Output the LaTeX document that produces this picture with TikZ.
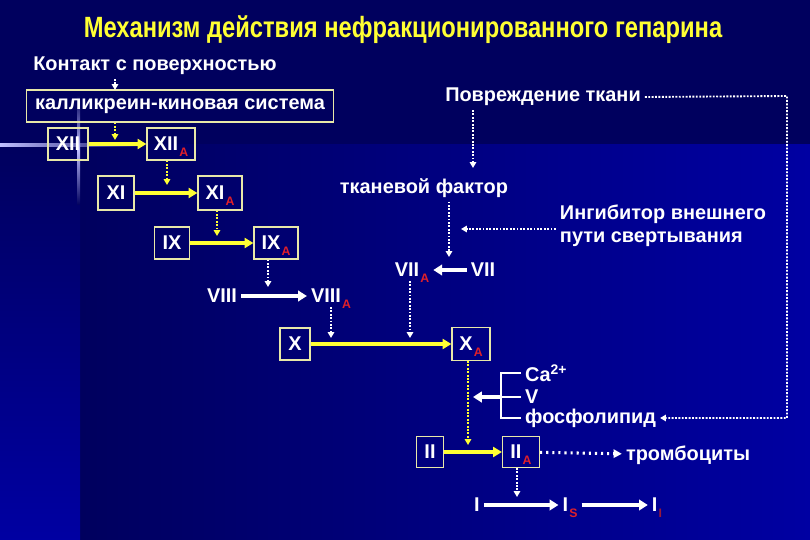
\documentclass[tikz,border=0pt]{standalone}
\usepackage{fontspec}
\setmainfont{Liberation Sans}
\usetikzlibrary{positioning,arrows.meta}

\definecolor{bgnavy}{HTML}{00005E}
\definecolor{bgblue}{HTML}{0000A2}
\definecolor{hyellow}{HTML}{FFFF33}
\definecolor{boxline}{HTML}{E8E8A8}
\definecolor{subred}{HTML}{E0202A}
\definecolor{subdark}{HTML}{9A1838}
\newcommand{\actA}[1]{\hspace{1pt}\raisebox{-0.5ex}[0pt][0pt]{\fontsize{10.5}{10}\selectfont\color{subred}#1}}
\newcommand{\actB}[1]{\hspace{1pt}\raisebox{-0.5ex}[0pt][0pt]{\fontsize{10.5}{10}\selectfont\color{subdark}#1}}

\begin{document}
\begin{tikzpicture}[x=0.03cm, y=-0.03cm,
  every node/.style={font=\bfseries\fontsize{17}{20}\selectfont, text=white},
  fbox/.style={draw=boxline, line width=1pt, inner sep=0pt},
  yarr/.style={draw=hyellow, line width=3.2pt, -{Triangle[length=7.5pt,width=8.5pt]}},
  warr/.style={draw=white, line width=3pt, -{Triangle[length=7.5pt,width=9pt]}},
  wdot/.style={draw=white, line width=1.6pt, dash pattern=on 1.6pt off 1.3pt, -{Triangle[length=5pt,width=5.5pt]}},
  ydot/.style={wdot, draw=hyellow}]
  % background
  \fill[bgnavy] (0,0) rectangle (810,540);
  \shade[left color=bgnavy, right color=bgblue] (80,145) rectangle (810,540);
  \shade[top color=bgnavy, bottom color=bgblue] (0,145) rectangle (80,540);
  \shade[left color=blue!25!white, right color=bgnavy] (0,144) rectangle (150,147);
  \shade[top color=bgnavy, bottom color=bgnavy, middle color=blue!25!white] (77,95) rectangle (80,205);

  \node (title) at (403,30) {\fontsize{25}{28}\selectfont\color{hyellow}\scalebox{0.81}[1]{Механизм действия нефракционированного гепарина}};
  \node (contact) at (155,66) {Контакт с поверхностью};
  \node[fbox, minimum width=9.21cm, minimum height=0.96cm] (kks) at (180,106) {калликреин-киновая система};
  \node (dmg) at (543,97) {Повреждение ткани};
  \node (tf) at (424,188) {тканевой фактор};
  \node[align=left] (inhib) at (663,226) {Ингибитор внешнего\\пути свертывания};

  % factor boxes
  \node[fbox, minimum width=1.2cm, minimum height=0.96cm] (xii) at (68,144) {XII};
  \node[fbox, minimum width=1.44cm, minimum height=0.96cm] (xiia) at (171,144) {XII\actA{A}};
  \node[fbox, minimum width=1.08cm, minimum height=1.02cm] (xi) at (116,193) {XI};
  \node[fbox, minimum width=1.32cm, minimum height=1.02cm] (xia) at (220,193) {XI\actA{A}};
  \node[fbox, minimum width=1.05cm, minimum height=0.96cm] (ix) at (172,243) {IX};
  \node[fbox, minimum width=1.32cm, minimum height=0.96cm] (ixa) at (276,243) {IX\actA{A}};
  \node[fbox, minimum width=0.9cm, minimum height=0.96cm] (x) at (295,344) {X};
  \node[fbox, minimum width=1.14cm, minimum height=0.99cm] (xa) at (471,344) {X\actA{A}};
  \node[fbox, minimum width=0.81cm, minimum height=0.93cm] (ii) at (430,452) {II};
  \node[fbox, minimum width=1.11cm, minimum height=0.93cm] (iia) at (521,452) {II\actA{A}};

  \node (viia) at (412,270) {VII\actA{A}};
  \node (vii) at (483,270) {VII};
  \node (viii) at (222,296) {VIII};
  \node (viiia) at (331,296) {VIII\actA{A}};
  \node[anchor=west] (ca) at (521,373) {Ca\textsuperscript{2+}};
  \node[anchor=west] (v) at (521,397) {V};
  \node[anchor=west] (phos) at (521,418) {фосфолипид};
  \node (tromb) at (688,455) {тромбоциты};
  \node (fi) at (477,505) {I};
  \node (fis) at (570,505) {I\actA{S}};
  \node (fii) at (657,505) {I\actB{I}};

  % arrow targets
  \coordinate (kk) at (115,90);
  \coordinate (m12) at (115,140);
  \coordinate (m11) at (167,185);
  \coordinate (m9) at (217,236);
  \coordinate (m8) at (268,287);
  \coordinate (m10a) at (331,338);
  \coordinate (m10b) at (410,338);
  \coordinate (m7) at (449,257);
  \coordinate (tfin) at (473,168);
  \coordinate (ihtip) at (461,229);
  \coordinate (m2) at (468,445);
  \coordinate (m1) at (517,497);
  \coordinate (rcorner) at (787,96);

  % activation steps
  \draw[yarr] (xii) -- (xiia);
  \draw[yarr] (xi) -- (xia);
  \draw[yarr] (ix) -- (ixa);
  \draw[yarr] (x) -- (xa);
  \draw[yarr] (ii) -- (iia);
  \draw[warr] (viii) -- (viiia);
  \draw[warr] (vii) -- (viia);
  \draw[warr] (fi) -- (fis);
  \draw[warr] (fis) -- (fii);

  % dotted links
  \draw[wdot] (contact.south -| kk) -- (kk);
  \draw[ydot] (kks.south -| m12) -- (m12);
  \draw[ydot] (xiia.south -| m11) -- (m11);
  \draw[ydot] (xia.south -| m9) -- (m9);
  \draw[wdot] (ixa.south -| m8) -- (m8);
  \draw[wdot] (viiia.south -| m10a) -- (m10a);
  \draw[wdot] (viia.south -| m10b) -- (m10b);
  \draw[wdot] (tf.south -| m7) -- (m7);
  \draw[wdot] (dmg.south -| tfin) -- (tfin);
  \draw[wdot] (inhib.west |- ihtip) -- (ihtip);
  \draw[ydot] (xa.south -| m2) -- (m2);
  \draw[wdot] (iia.south -| m1) -- (m1);
  \draw[wdot] (dmg.east) -- (rcorner) |- (phos.east);
  \draw[draw=white, line width=2.6pt, dash pattern=on 1.8pt off 3.4pt, -{Triangle[length=7pt,width=7pt]}] (iia) -- (tromb);

  % cofactor bracket
  \draw[white, line width=2.4pt] (ca.west) -- ++(-20,0) |- (phos.west);
  \draw[white, line width=2.4pt] (v.west) -- ++(-20,0) coordinate (brk);
  \draw[warr] (brk) -- ++(-28,0);
\end{tikzpicture}
\end{document}
